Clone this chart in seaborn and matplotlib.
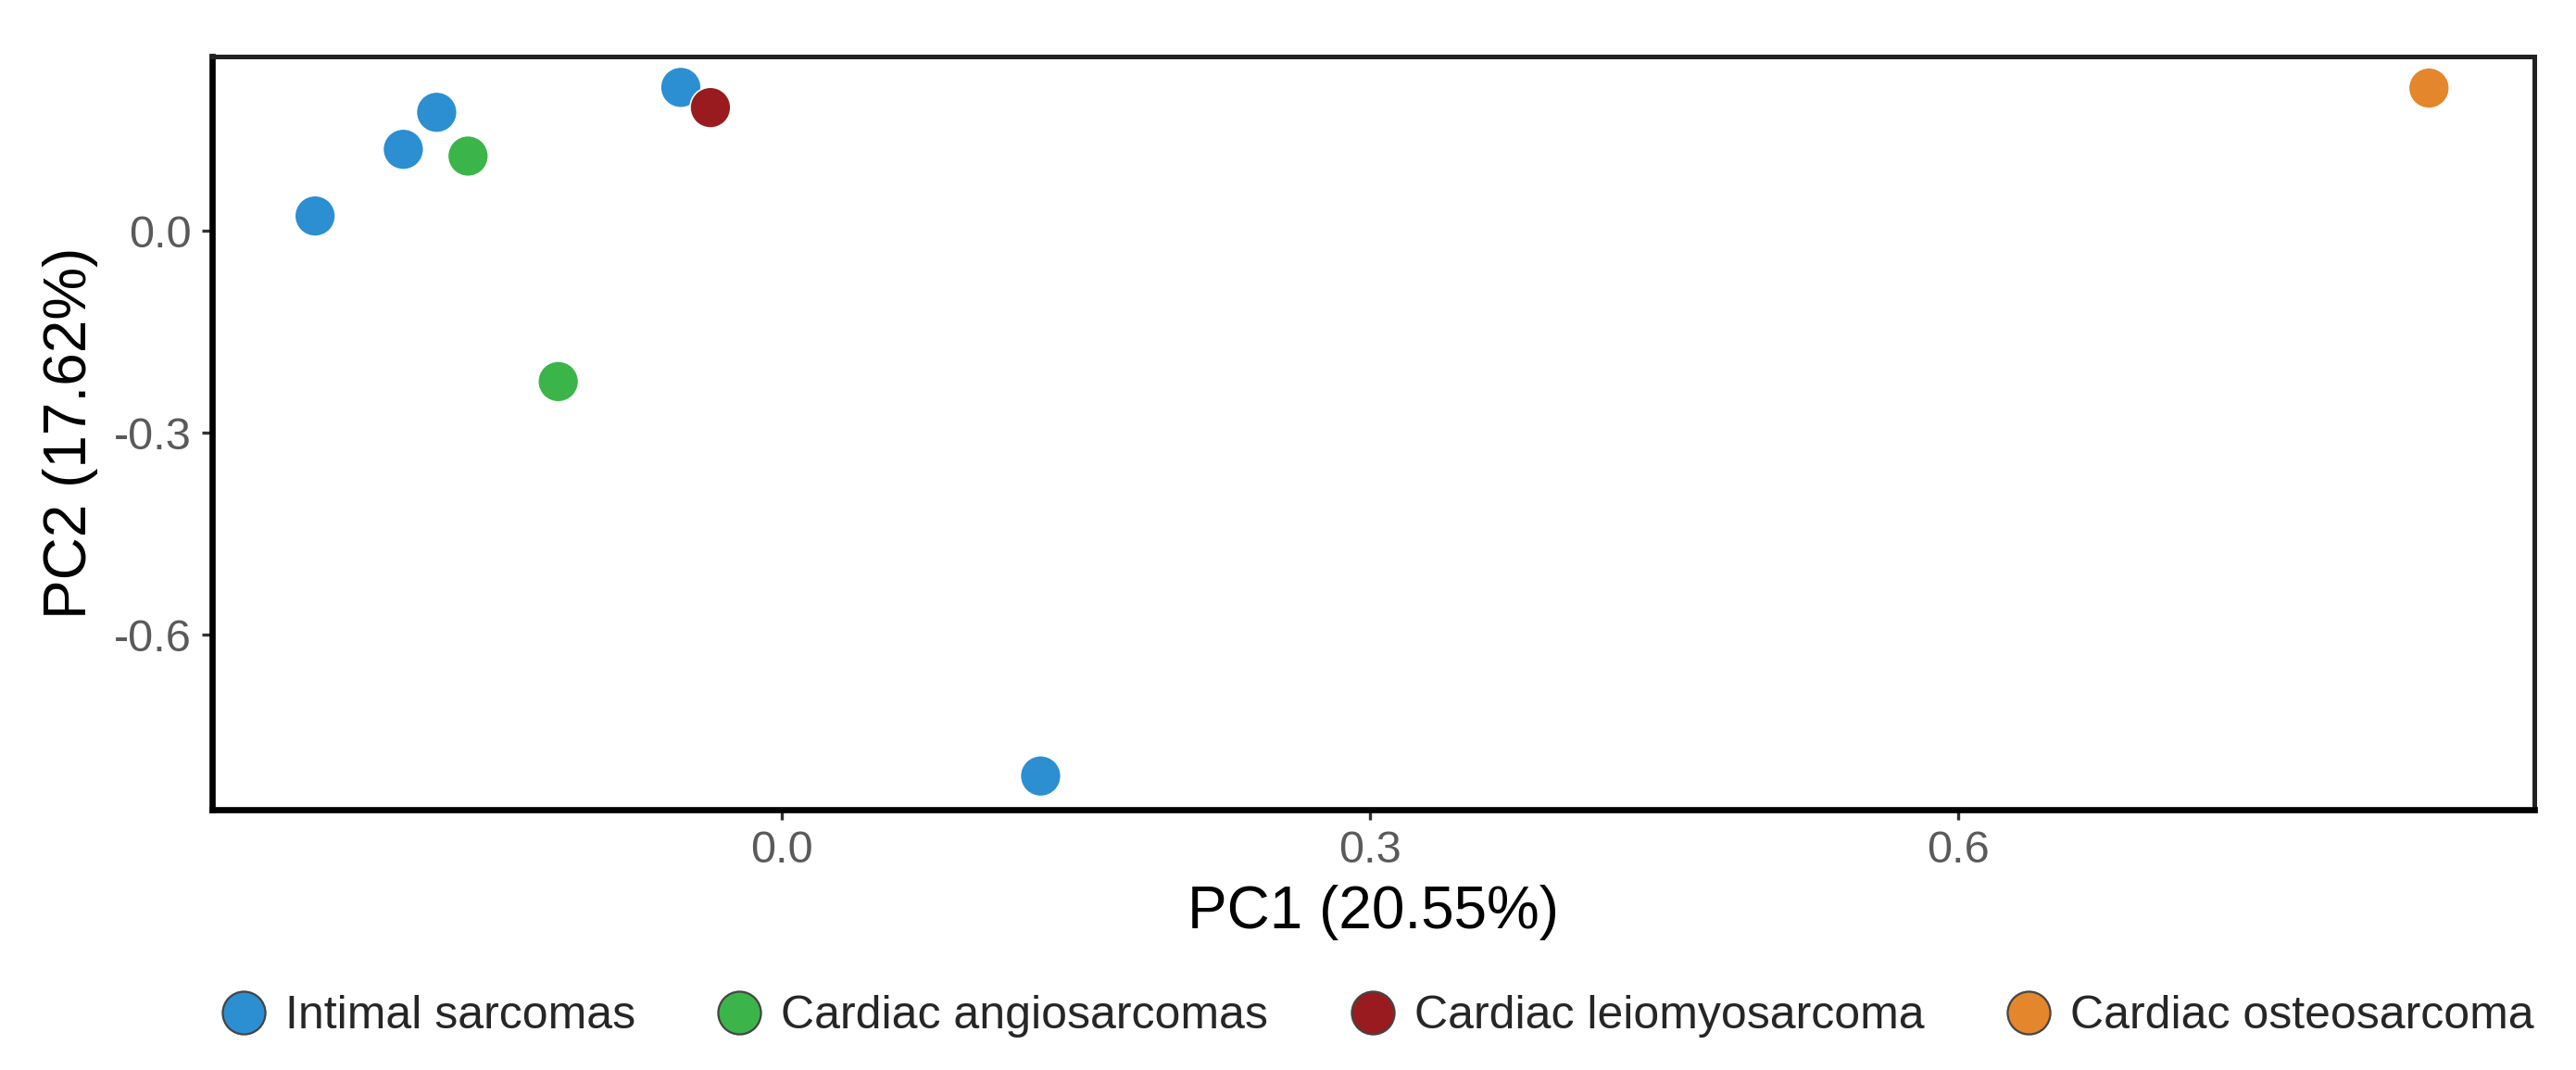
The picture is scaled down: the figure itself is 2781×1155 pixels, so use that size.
#!/usr/bin/env python3
import matplotlib
matplotlib.use('Agg')
import matplotlib.pyplot as plt
import seaborn as sns
import pandas as pd

# PCA coordinates
groups = ['Intimal sarcomas', 'Intimal sarcomas', 'Intimal sarcomas', 'Intimal sarcomas',
          'Intimal sarcomas', 'Cardiac angiosarcomas', 'Cardiac angiosarcomas',
          'Cardiac leiomyosarcoma', 'Cardiac osteosarcoma']
pc1 = [-0.238, -0.193, -0.176, -0.0515, 0.132, -0.160, -0.114, -0.0364, 0.840]
pc2 = [0.022, 0.121, 0.176, 0.213, -0.810, 0.111, -0.224, 0.183, 0.212]

hue_order = ['Intimal sarcomas', 'Cardiac angiosarcomas',
             'Cardiac leiomyosarcoma', 'Cardiac osteosarcoma']
colors = ['#2b8fd2', '#3bb54a', '#9a1b1f', '#e3862c']

x_ticks = [0.0, 0.3, 0.6]
y_ticks = [0.0, -0.3, -0.6]


def pca_plot(df):
    sns.set_theme(style='white')
    plt.rcParams['font.family'] = ['Liberation Sans', 'DejaVu Sans']

    fig, ax = plt.subplots(figsize=(13.905, 5.775), dpi=200)
    fig.subplots_adjust(left=0.0822, right=0.9838, top=0.947, bottom=0.2433)

    sns.scatterplot(data=df, x='PC1', y='PC2', hue='group', hue_order=hue_order,
                    palette=colors, s=250, linewidth=0.6, edgecolor='#ffffff',
                    ax=ax, zorder=3)

    ax.set_xlim(-0.2907, 0.8937)
    ax.set_ylim(-0.860, 0.2586)
    ax.set_xticks(x_ticks)
    ax.set_yticks(y_ticks)
    ax.set_xticklabels([f'{t:.1f}' for t in x_ticks])
    ax.set_yticklabels([f'{t:.1f}' for t in y_ticks])
    ax.tick_params(axis='both', direction='out', length=4, width=1.2,
                   color='#333333', labelcolor='#5a5a5a', labelsize=17.5,
                   bottom=True, left=True, pad=4)

    ax.set_xlabel('PC1 (20.55%)', fontsize=23, color='black', labelpad=5)
    ax.set_ylabel('PC2 (17.62%)', fontsize=23, color='black', labelpad=6)

    # Thick box, heavier on left/bottom
    for side in ['left', 'bottom']:
        ax.spines[side].set_linewidth(2.4)
        ax.spines[side].set_color('black')
    for side in ['top', 'right']:
        ax.spines[side].set_linewidth(1.8)
        ax.spines[side].set_color('#222222')

    # Legend along the bottom
    handles, labels = ax.get_legend_handles_labels()
    ax.legend_.remove()
    for h in handles:
        h.set_markeredgecolor('#444444')
        h.set_markeredgewidth(0.8)
    fig.legend(handles, labels, loc='center', bbox_to_anchor=(0.53, 0.05),
               ncol=4, frameon=False, fontsize=18, handletextpad=-0.1,
               columnspacing=1.25, markerscale=1.05, borderaxespad=0)

    fig.savefig('out.png', dpi=200)


if __name__ == "__main__":
    df = pd.DataFrame({'group': groups, 'PC1': pc1, 'PC2': pc2})
    pca_plot(df)
